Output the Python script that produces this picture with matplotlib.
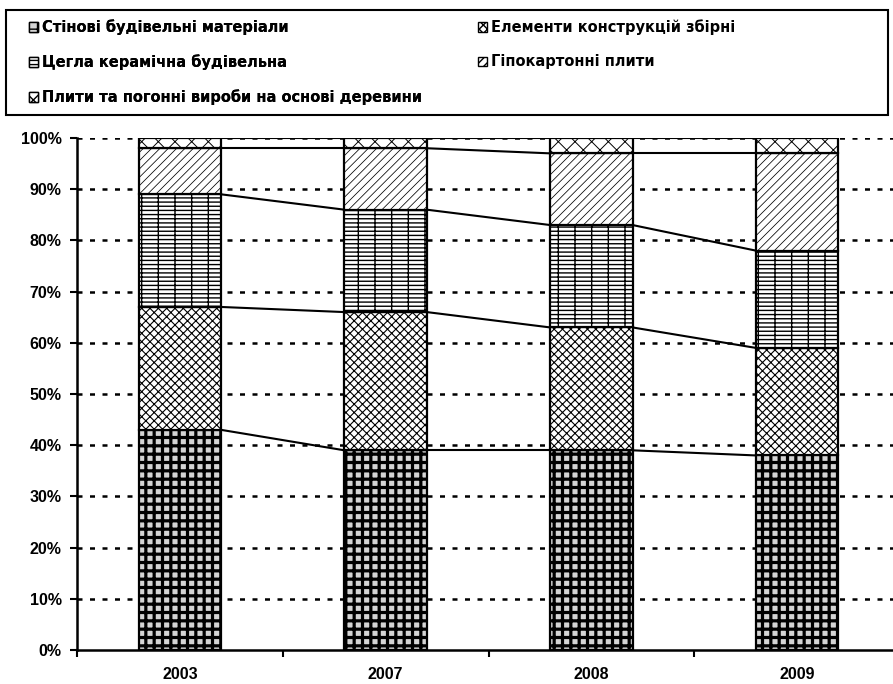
import matplotlib
matplotlib.use("Agg")
import matplotlib.pyplot as plt
from matplotlib.patches import Rectangle, Patch
import numpy as np

plt.rcParams['font.family'] = ['Liberation Sans', 'DejaVu Sans']
plt.rcParams['font.weight'] = 'bold'
plt.rcParams['hatch.linewidth'] = 1.0
plt.rcParams['lines.scale_dashes'] = False

years = ['2003', '2007', '2008', '2009']
series_names = ['Стінові будівельні матеріали',
                'Елементи конструкцій збірні',
                'Цегла керамічна будівельна',
                'Гіпокартонні плити',
                'Плити та погонні вироби на основі деревини']
walls = [43, 39, 39, 38]
elements = [24, 27, 24, 21]
bricks = [22, 20, 20, 19]
gypsum = [9, 12, 14, 19]
wood = [2, 2, 3, 3]
yticks_labels = ['0%', '10%', '20%', '30%', '40%', '50%', '60%', '70%', '80%', '90%', '100%']

data = [walls, elements, bricks, gypsum, wood]
hatches = ['++', 'xxxx', '+---', '////', 'xx']
hatch_lws = [2.3, 0.8, 1.0, 0.55, 0.7]
faces = ['#d4d4d4', 'white', 'white', 'white', 'white']
has_hlw = hasattr(Patch, 'set_hatch_linewidth')

W, H = 893, 684
fig = plt.figure(figsize=(W / 100, H / 100), dpi=100)
left, right_px, top_px, bot_px = 77, 900, 138, 650
ax = fig.add_axes([left / W, (H - bot_px) / H, (right_px - left) / W, (bot_px - top_px) / H])

x = np.arange(len(years))
bw = 0.40
bottom = np.zeros(len(years))
handles = []
for vals, name, h, hlw, fc in zip(data, series_names, hatches, hatch_lws, faces):
    vals = np.array(vals, dtype=float)
    bars = ax.bar(x, vals, bw, bottom=bottom, facecolor=fc, edgecolor='black',
                  linewidth=1.6, hatch=h, zorder=3)
    hp = Patch(facecolor=fc, edgecolor='black', hatch=h, linewidth=1.0, label=name)
    if has_hlw:
        for b in bars:
            b.set_hatch_linewidth(hlw)
        hp.set_hatch_linewidth(min(hlw, 1.5))
    handles.append(hp)
    top = bottom + vals
    for i in range(len(years) - 1):
        ax.plot([x[i] + bw / 2, x[i + 1] - bw / 2], [top[i], top[i + 1]],
                color='black', lw=1.5, zorder=2)
    bottom = top

ax.set_xlim(-0.5, len(years) - 0.5)
ax.set_ylim(0, 100)
ax.set_yticks(np.arange(0, 101, 10))
ax.set_yticklabels(yticks_labels, fontsize=11.5, fontweight='bold')
for yv in range(10, 101, 10):
    ax.axhline(yv, color='black', lw=1.8, linestyle=(0, (3.6, 5.4)), zorder=1)

ax.set_xticks(x)
ax.set_xticklabels(years, fontsize=11.5, fontweight='bold')
ax.set_xticks(np.arange(-0.5, len(years) + 0.5, 1), minor=True)
ax.tick_params(axis='x', which='major', length=0, pad=12)
ax.tick_params(axis='x', which='minor', length=5, width=1.5, direction='out')
ax.tick_params(axis='y', length=5, width=1.5, direction='out', pad=6)
for s in ['top', 'right']:
    ax.spines[s].set_visible(False)
ax.spines['left'].set_linewidth(1.8)
ax.spines['bottom'].set_linewidth(1.8)

# legend box
fig.patches.append(Rectangle((6 / W, 1 - 115 / H), (888 - 6) / W, (115 - 10) / H,
                             transform=fig.transFigure, fill=False, edgecolor='black', lw=1.5))
legkw = dict(loc='upper left', frameon=False,
             prop={'size': 10.5, 'weight': 'bold', 'family': ['DejaVu Sans']},
             handlelength=0.62, handleheight=0.62, handletextpad=0.3,
             labelspacing=1.32, borderpad=0, borderaxespad=0)
col1 = [0, 2, 4]
col2 = [1, 3]
leg1 = fig.legend([handles[i] for i in col1], [series_names[i] for i in col1],
                  bbox_to_anchor=(29 / W, 1 - 19.5 / H), **legkw)
fig.add_artist(leg1)
leg2 = fig.legend([handles[i] for i in col2], [series_names[i] for i in col2],
                  bbox_to_anchor=(478 / W, 1 - 19.5 / H), **legkw)

fig.savefig('out.png', dpi=100)
